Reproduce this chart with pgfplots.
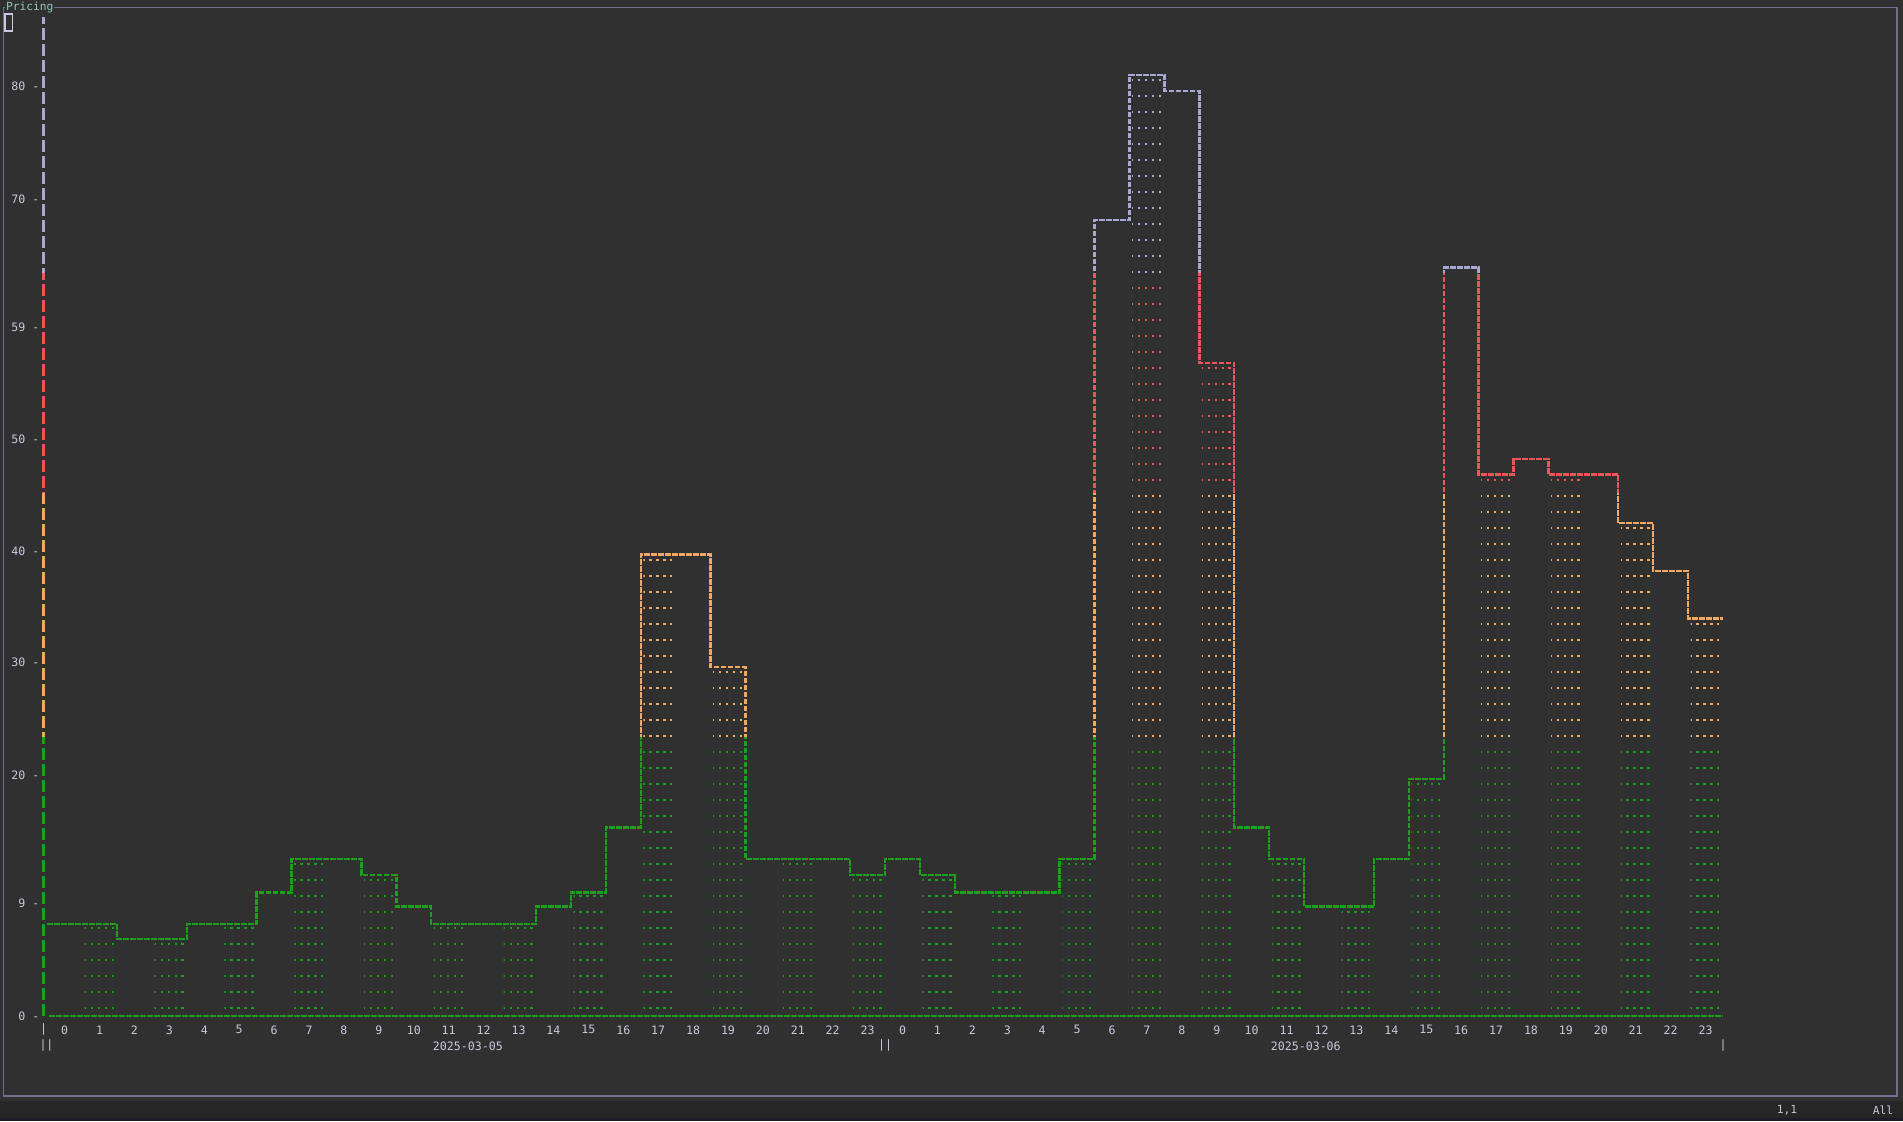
\documentclass[border=0pt]{standalone}
\usepackage{pgfplots}
\pgfplotsset{compat=1.18}
\usepackage{pgfplotstable}
\usepackage{fontspec}
\setmainfont{DejaVu Sans Mono}
\usetikzlibrary{patterns}

\definecolor{bg}{HTML}{303030}
\definecolor{barbg}{HTML}{262626}
\definecolor{strip}{HTML}{1C1C26}
\definecolor{frame}{HTML}{6E6E8C}
\definecolor{fg}{HTML}{C8C8DE}
\definecolor{title}{HTML}{8FC9B9}
\definecolor{lowc}{HTML}{1AA01A}
\definecolor{midc}{HTML}{F2A860}
\definecolor{highc}{HTML}{F05555}
\definecolor{topc}{HTML}{A8A8D2}

% terminal style dot rows
\pgfdeclarepatternformonly{termdots}{\pgfqpoint{-0.5pt}{-0.5pt}}{\pgfqpoint{4pt}{8.5pt}}{\pgfqpoint{3.49pt}{8pt}}{%
  \pgfpathrectangle{\pgfqpoint{0pt}{0pt}}{\pgfqpoint{1.2pt}{1.2pt}}\pgfusepath{fill}}

% hourly price, 2025-03-05 (h 0-23) and 2025-03-06 (h 24-47); last row closes the step
\pgfplotstableread{
h v
0 7.9
1 7.9
2 6.6
3 6.6
4 7.9
5 7.9
6 10.6
7 13.5
8 13.5
9 12.1
10 9.4
11 7.9
12 7.9
13 7.9
14 9.4
15 10.6
16 16.2
17 39.7
18 39.7
19 30.0
20 13.5
21 13.5
22 13.5
23 12.1
24 13.5
25 12.1
26 10.6
27 10.6
28 10.6
29 13.5
30 68.5
31 81.0
32 79.6
33 56.2
34 16.2
35 13.5
36 9.4
37 9.4
38 13.5
39 20.4
40 64.4
41 46.6
42 47.9
43 46.6
44 46.6
45 42.4
46 38.3
47 34.2
48 34.2
}\prices

\newcommand{\band}[3]{%
  \begin{scope}
    \clip (axis cs:-1,#2) rectangle (axis cs:48,#3);
    \addplot[#1, line width=1.2pt, dash pattern=on 2.9pt off 0.6pt, const plot mark left, forget plot]
      table[x expr=\thisrow{h}-0.5, y=v] {\prices};
    \addplot[ybar, bar width=0.85, bar shift=0pt, draw=none, pattern=termdots, pattern color=#1, forget plot,
      restrict expr to domain={mod(\thisrow{h},2)}{1:1}]
      table[x=h, y=v] {\prices};
    \draw[#1, line width=1.2pt, dash pattern=on 6pt off 2pt] (axis cs:-0.6,0) -- (axis cs:-0.6,86);
  \end{scope}}

\begin{document}
\begin{tikzpicture}
\useasboundingbox (0,0) rectangle (951.5pt,-560.5pt);
\begin{scope}[x=0.5pt,y=-0.5pt]
  \fill[bg] (0,0) rectangle (1903,1121);
  \fill[barbg] (0,1101) rectangle (1903,1118);
  \fill[strip] (0,1118) rectangle (1903,1121);
  \draw[frame, line width=0.6pt] (3.6,7.3) rectangle (1897,1096);
  \node[fill=bg, text=title, inner sep=0.4pt, anchor=west, font=\fontsize{5.6}{7}\selectfont] at (5,7) {Pricing};
  \draw[fg, line width=0.6pt] (5,14) rectangle (12.5,31);
  \node[text=fg, font=\fontsize{5.6}{7}\selectfont] at (1787,1110) {1,1};
  \node[text=fg, font=\fontsize{5.6}{7}\selectfont] at (1883,1110) {All};
\end{scope}

\begin{axis}[
  at={(21.85pt,-507.9pt)}, anchor=south west,
  scale only axis, width=839.65pt, height=499.6pt,
  xmin=-0.6, xmax=47.5, ymin=0, ymax=86,
  clip=false,
  axis line style={draw=none},
  major tick length=0pt,
  xtick={0,...,47},
  xticklabels={0,1,2,3,4,5,6,7,8,9,10,11,12,13,14,15,16,17,18,19,20,21,22,23,
               0,1,2,3,4,5,6,7,8,9,10,11,12,13,14,15,16,17,18,19,20,21,22,23},
  ytick={0,9.7,20.7,30.4,40,49.6,59.3,70.3,80},
  yticklabels={0 -,9 -,20 -,30 -,40 -,50 -,59 -,70 -,80 -},
  ticklabel style={font=\fontsize{5.8}{7}\selectfont, text=fg},
  xticklabel style={anchor=center, yshift=-7pt},
  yticklabel style={anchor=east, inner sep=0pt, xshift=-2pt},
]
\band{lowc}{-3}{24}
\band{midc}{24}{45}
\band{highc}{45}{64}
\band{topc}{64}{86.5}
\draw[lowc, line width=1.2pt, dash pattern=on 2.9pt off 0.6pt] (axis cs:-0.45,0) -- (axis cs:47.5,0);

\node[text=fg, font=\fontsize{5.8}{7}\selectfont] at (axis cs:-0.6,0) [yshift=-7pt] {|};
\node[text=fg, font=\fontsize{5.8}{7}\selectfont] at (axis cs:-0.52,0) [yshift=-15pt] {||};
\node[text=fg, font=\fontsize{5.8}{7}\selectfont] at (axis cs:23.5,0) [yshift=-15pt] {||};
\node[text=fg, font=\fontsize{5.8}{7}\selectfont] at (axis cs:47.5,0) [yshift=-15pt] {|};
\node[text=fg, font=\fontsize{5.8}{7}\selectfont] at (axis cs:11.55,0) [yshift=-15pt] {2025-03-05};
\node[text=fg, font=\fontsize{5.8}{7}\selectfont] at (axis cs:35.55,0) [yshift=-15pt] {2025-03-06};
\end{axis}
\end{tikzpicture}
\end{document}
